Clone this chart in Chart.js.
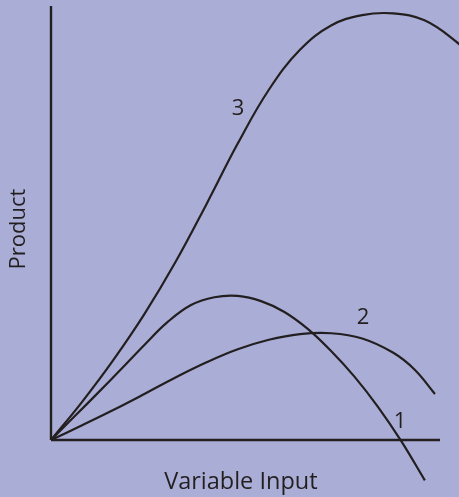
<!doctype html>
<html lang="en">
<head>
    <meta charset="utf-8">
    <script src="https://cdn.jsdelivr.net/npm/chart.js@4"></script>
    <title>Product curves</title>
    <style>
        body {
            margin: 0;
            background: #aaaed6;
        }
        #chart {
            display: block;
        }
    </style>
</head>
<body>
<canvas id="chart" width="459" height="497"></canvas>

<script>
    // curve data, x = variable input, y = product (both 0..100 on the drawn axes)
    const curve1X = [0, 6, 12, 18, 24, 30, 36, 42, 48, 54, 60, 66, 72, 78, 84, 90, 96.1];
    const curve1Y = [0, 5.4, 10.8, 16.3, 21.9, 27.2, 31.1, 32.9, 33.2, 32.0, 29.5, 25.6, 20.5, 14.6, 7.7, -0.2, -9.3];

    const curve2X = [0, 8, 16, 24, 32, 40, 48, 56, 64, 72, 80, 88, 93.5, 98.7];
    const curve2Y = [0, 3.4, 6.9, 10.6, 14.4, 17.9, 20.9, 23.1, 24.4, 24.6, 23.4, 20.1, 16.2, 10.6];

    const curve3X = [0, 8, 16, 24, 32, 40, 48, 56, 64, 72, 80, 88, 96, 104, 108];
    const curve3Y = [0, 8.8, 18.4, 29.0, 41.0, 54.4, 68.3, 80.7, 89.9, 95.5, 97.9, 98.3, 96.7, 91.9, 88.3];

    const curveNames = ['1', '2', '3'];
    const xTitle = 'Variable Input';
    const yTitle = 'Product';

    const ink = '#231f20';

    function toPoints(xs, ys) {
        return xs.map(function (x, i) {
            return {x: x, y: ys[i]};
        });
    }

    function curve(label, xs, ys) {
        return {
            label: label,
            data: toPoints(xs, ys),
            borderColor: ink,
            borderWidth: 2.2,
            pointRadius: 0,
            tension: 0.4,
            fill: false
        };
    }

    // axis lines are drawn as plain two-point lines
    function axisLine(label, pts) {
        return {
            label: label,
            data: pts,
            borderColor: ink,
            borderWidth: 2.4,
            pointRadius: 0,
            tension: 0,
            borderCapStyle: 'butt'
        };
    }

    const textPlugin = {
        id: 'textLabels',
        afterDatasetsDraw(chart) {
            const ctx = chart.ctx;
            const xs = chart.scales.x;
            const ys = chart.scales.y;
            ctx.save();
            ctx.fillStyle = ink;
            ctx.font = '22px "Open Sans"';
            ctx.textAlign = 'center';
            ctx.textBaseline = 'alphabetic';

            // curve numbers
            const spots = [[89.7, 2.8], [80.2, 26.7], [48.1, 74.9]];
            curveNames.forEach(function (name, i) {
                ctx.fillText(name, xs.getPixelForValue(spots[i][0]), ys.getPixelForValue(spots[i][1]));
            });

            // axis titles
            ctx.font = '23.5px "Open Sans"';
            ctx.fillText(xTitle, xs.getPixelForValue(48.8), ys.getPixelForValue(-11.2));
            ctx.font = '22px "Open Sans"';
            ctx.translate(xs.getPixelForValue(-6.7), ys.getPixelForValue(48.6));
            ctx.rotate(-Math.PI / 2);
            ctx.fillText(yTitle, 0, 0);
            ctx.restore();
        }
    };

    const chart = new Chart(document.getElementById('chart'), {
        type: 'line',
        data: {
            datasets: [
                axisLine('y axis', [{x: 0, y: 0}, {x: 0, y: 100}]),
                axisLine('x axis', [{x: 0, y: 0}, {x: 100, y: 0}]),
                curve(curveNames[0], curve1X, curve1Y),
                curve(curveNames[1], curve2X, curve2Y),
                curve(curveNames[2], curve3X, curve3Y)
            ]
        },
        options: {
            responsive: false,
            animation: false,
            layout: {padding: 0},
            plugins: {
                legend: {display: false},
                tooltip: {enabled: false}
            },
            scales: {
                x: {
                    type: 'linear',
                    display: false,
                    min: -13.11,
                    max: 104.88
                },
                y: {
                    type: 'linear',
                    display: false,
                    min: -13.13,
                    max: 101.38
                }
            }
        },
        plugins: [textPlugin]
    });
</script>
</body>
</html>
